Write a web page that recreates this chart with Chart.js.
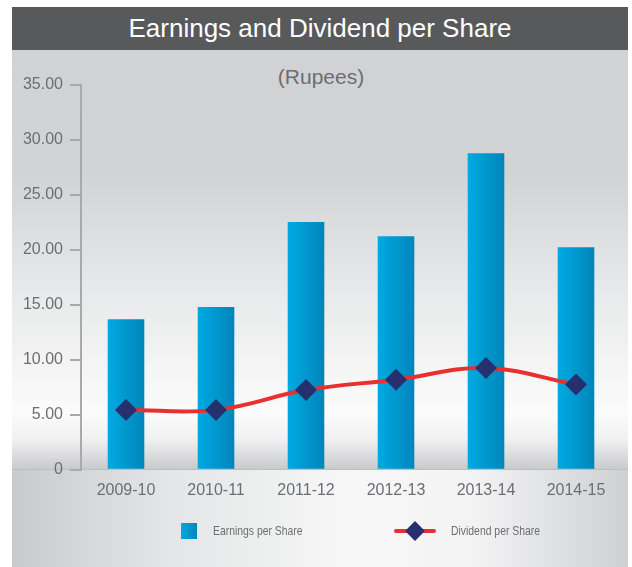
<!DOCTYPE html>
<html>
<head>
<meta charset="utf-8">
<script src="https://cdn.jsdelivr.net/npm/chart.js@4.4.1/dist/chart.umd.min.js"></script>
<style>
  body { margin: 0; background: #fff; font-family: "Liberation Sans", Arial, sans-serif; }
  #wrap { position: relative; width: 632px; height: 567px; overflow: hidden; }
  #title-bar {
    position: absolute; left: 12px; top: 7px; width: 616px; height: 43px;
    background: #58595b; color: #fff; font-size: 26px; line-height: 43px; text-align: center;
  }
  #plot-bg {
    position: absolute; left: 12px; top: 50px; width: 616px; height: 419px;
    background: linear-gradient(to bottom, #d1d2d4 0%, #d2d3d5 30%, #e6e7e8 55%, #f6f6f6 78%, #fbfbfb 87%, #f0f0f1 93%, #c9cacc 100%);
  }
  #low-bg {
    position: absolute; left: 12px; top: 469px; width: 616px; height: 98px;
    border-top: 1px solid #bdbec0; box-sizing: border-box;
    background: linear-gradient(to right, #c9cacc 0%, #e4e5e6 25%, #f7f7f7 55%, #f3f3f4 75%, #cfd0d2 100%);
  }
  #unit {
    position: absolute; left: 0; top: 65px; width: 642px; text-align: center;
    font-size: 21px; color: #6d6e71;
  }
  #chart-box { position: absolute; left: 0; top: 0; width: 632px; height: 567px; }
  .legend { position: absolute; top: 522px; height: 18px; font-size: 13px; color: #6d6e71; }
  .legend span.txt { position: absolute; top: 1px; white-space: nowrap; transform: scaleX(0.8); transform-origin: left center; }
  .sw-bar { position: absolute; left: 0; top: 1px; width: 16px; height: 16px; background: linear-gradient(to right, #00a9e1, #0086bc); }
  .sw-line { position: absolute; left: 0; top: 7px; width: 42px; height: 4px; border-radius: 2px; background: #e8312f; }
  .sw-dia { position: absolute; left: 14px; top: 2px; width: 14px; height: 14px; background: #27306f; transform: rotate(45deg); }
</style>
</head>
<body>
<div id="wrap">
  <div id="title-bar">Earnings and Dividend per Share</div>
  <div id="plot-bg"></div>
  <div id="low-bg"></div>
  <div id="unit">(Rupees)</div>
  <div id="chart-box"><canvas id="chart" width="632" height="567"></canvas></div>
  <div class="legend" style="left:181px">
    <div class="sw-bar"></div><span class="txt" style="left:32px">Earnings per Share</span>
  </div>
  <div class="legend" style="left:394px">
    <div class="sw-line"></div><div class="sw-dia"></div><span class="txt" style="left:57px">Dividend per Share</span>
  </div>
</div>
<script>
const years = ['2009-10', '2010-11', '2011-12', '2012-13', '2013-14', '2014-15'];
const earnings = [13.7, 14.8, 22.55, 21.25, 28.8, 20.25];
const dividend = [5.45, 5.45, 7.25, 8.2, 9.25, 7.75];
const yTicks = [0, 5, 10, 15, 20, 25, 30, 35];

const BAR_PCT = 0.4066;

// horizontal gradient on each bar, from the x scale
function barFill(ctx) {
  const chart = ctx.chart;
  const x = chart.scales.x;
  if (!x || ctx.dataIndex === undefined) return '#00a0d8';
  const cx = x.getPixelForValue(ctx.dataIndex);
  const w = (x.width / years.length) * BAR_PCT;
  if (!isFinite(cx) || !isFinite(w) || w <= 0) return '#00a0d8';
  const g = chart.ctx.createLinearGradient(cx - w / 2, 0, cx + w / 2, 0);
  g.addColorStop(0, '#00aae2');
  g.addColorStop(1, '#0085ba');
  return g;
}

new Chart(document.getElementById('chart'), {
  data: {
    labels: years,
    datasets: [
      {
        type: 'line',
        label: 'Dividend per Share',
        data: dividend,
        order: 1,
        borderColor: '#e8312f',
        borderWidth: 4,
        tension: 0.4,
        pointStyle: 'rectRot',
        pointRadius: 11,
        pointBackgroundColor: '#27306f',
        pointBorderColor: '#27306f',
        pointBorderWidth: 0
      },
      {
        type: 'bar',
        label: 'Earnings per Share',
        data: earnings,
        order: 2,
        backgroundColor: barFill,
        barPercentage: BAR_PCT,
        categoryPercentage: 1
      }
    ]
  },
  options: {
    responsive: false,
    animation: false,
    layout: { padding: { left: 0, right: 5, top: 85, bottom: 56 } },
    plugins: { legend: { display: false }, tooltip: { enabled: false } },
    scales: {
      x: {
        offset: true,
        grid: { display: false, drawTicks: false },
        border: { display: false },
        ticks: { padding: 11, color: '#6d6e71', font: { family: 'Liberation Sans', size: 16 } }
      },
      y: {
        min: 0,
        max: 35,
        afterFit: s => { s.width = 81; },
        afterBuildTicks: s => { s.ticks = yTicks.map(v => ({ value: v })); },
        grid: { drawOnChartArea: false, drawTicks: true, tickLength: 11, color: '#a7a9ac', lineWidth: 2 },
        border: { display: true, color: '#a7a9ac', width: 2 },
        ticks: {
          padding: 7,
          color: '#6d6e71',
          font: { family: 'Liberation Sans', size: 16 },
          callback: v => v === 0 ? '0' : v.toFixed(2)
        }
      }
    }
  }
});
</script>
</body>
</html>
